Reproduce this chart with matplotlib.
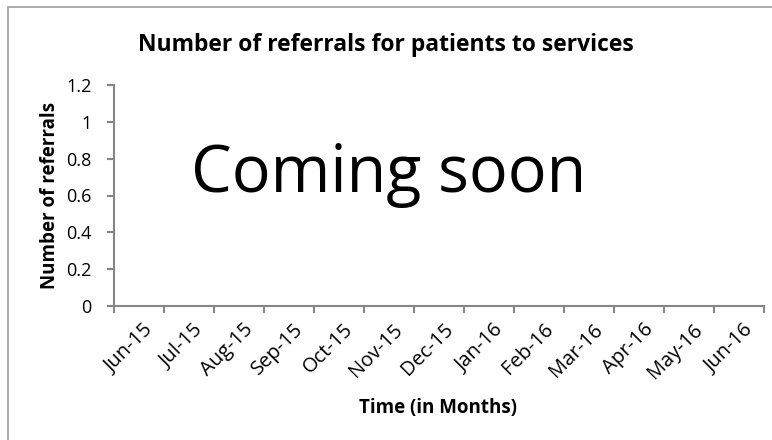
import matplotlib
matplotlib.use("Agg")
import matplotlib.pyplot as plt
from matplotlib.patches import Rectangle
import matplotlib.transforms as mtransforms

months = ["Jun-15", "Jul-15", "Aug-15", "Sep-15", "Oct-15", "Nov-15", "Dec-15",
          "Jan-16", "Feb-16", "Mar-16", "Apr-16", "May-16", "Jun-16"]
y_ticks = [0, 0.2, 0.4, 0.6, 0.8, 1.0, 1.2]
y_tick_labels = ["0", "0.2", "0.4", "0.6", "0.8", "1", "1.2"]
title = "Number of referrals for patients to services"
overlay = "Coming soon"

plt.rcParams['font.family'] = ['Open Sans', 'DejaVu Sans']

W, H = 772, 440
fig = plt.figure(figsize=(W / 100, H / 100), dpi=100)
fig.patch.set_facecolor("white")

# outer chart border (cropped at right/bottom)
fig.patches.append(Rectangle((8 / W, -0.05), 1.1, 1 - 7 / H + 0.05,
                             transform=fig.transFigure, fill=False,
                             edgecolor="#a6a6a6", linewidth=1.3))

ax = fig.add_axes([114 / W, 1 - 306 / H, (764 - 114) / W, (306 - 85) / H])
n = len(months)
ax.set_xlim(0, n)
ax.set_ylim(0, 1.2)

axis_col = "#868686"
for s in ["top", "right"]:
    ax.spines[s].set_visible(False)
for s in ["left", "bottom"]:
    ax.spines[s].set_color(axis_col)
    ax.spines[s].set_linewidth(1.5)

ax.set_yticks(y_ticks)
ax.set_yticklabels(y_tick_labels)
ax.set_xticks(range(n + 1))
ax.set_xticklabels([])
ax.set_xticks([i + 0.5 for i in range(n)], minor=True)
ax.set_xticklabels(months, minor=True, rotation=45, ha="right", va="top",
                   rotation_mode="anchor")
ax.tick_params(axis="x", which="minor", length=0, pad=10, labelsize=14.5)
ax.tick_params(axis="x", which="major", length=5, width=1.5, color=axis_col)
ax.tick_params(axis="y", length=5, width=1.5, color=axis_col, labelsize=13, pad=11)

offset = mtransforms.ScaledTranslation(4 / 100, 0, fig.dpi_scale_trans)
for lab in ax.get_xticklabels(minor=True):
    lab.set_transform(lab.get_transform() + offset)

ax.set_ylabel("Number of referrals", fontsize=13.5, fontweight="bold", va="center")
ax.yaxis.set_label_coords((50 - 114) / 650, (306 - 195) / 221)
ax.set_xlabel("Time (in Months)", fontsize=13.5, fontweight="bold", va="center")
ax.xaxis.set_label_coords((438 - 114) / 650, (306 - 408) / 221)

fig.text(386 / W, 1 - 45 / H, title, ha="center", va="center",
         fontsize=16.5, fontweight="bold")

ax.text((389 - 114) / 650, (306 - 192) / 221, overlay, transform=ax.transAxes,
        ha="center", va="baseline", fontsize=46.5)

fig.savefig("out.png", dpi=100, facecolor="white")
